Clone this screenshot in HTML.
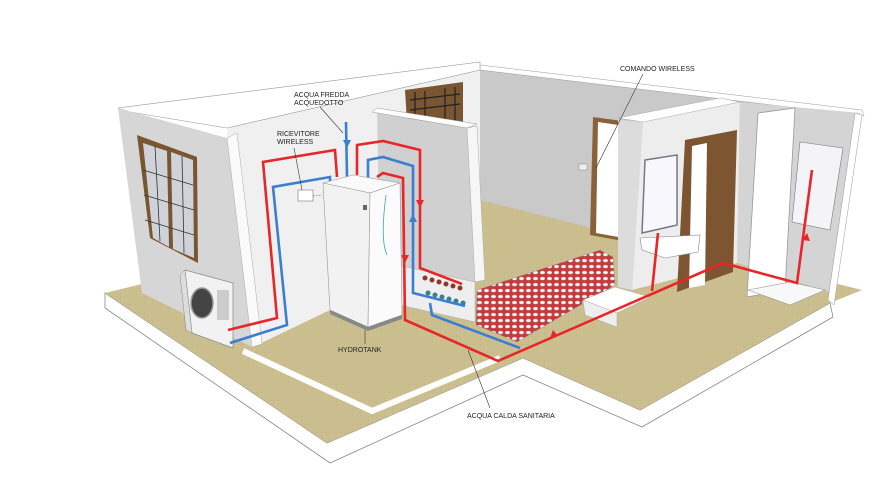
<!DOCTYPE html>
<html><head><meta charset="utf-8"><style>
html,body{margin:0;padding:0;background:#fff;}
svg{display:block}
text{font-family:"Liberation Sans",sans-serif;font-size:7px;fill:#222}
</style></head><body>
<svg width="895" height="484" viewBox="0 0 895 484" xmlns="http://www.w3.org/2000/svg">
<defs>
<pattern id="tile" width="8" height="8" patternUnits="userSpaceOnUse">
<rect width="8" height="8" fill="#cbbf8f"/><path d="M0 0H8M0 0V8" stroke="#c2b585" stroke-width="0.6"/>
</pattern>
<pattern id="heat" width="7" height="6" patternUnits="userSpaceOnUse">
<rect width="7" height="6" fill="#c83a3a"/><ellipse cx="3.5" cy="2.6" rx="2.5" ry="1.7" fill="#f4f4f4" stroke="#888" stroke-width="0.3"/>
</pattern>
</defs>
<polygon points="105,293 327,443 523,358 640,410 830,303 833,317 642,427 523,375 330,463 105,308" fill="#fff" stroke="#888" stroke-width="0.8"/>
<polygon points="105,293 190,272 480,195 862,290 830,303 640,410 523,358 327,443" fill="url(#tile)"/>
<polyline points="243,351 372,411 500,358" fill="none" stroke="#fff" stroke-width="6" stroke-linejoin="miter"/>
<polygon points="480,65 862,113 832,293 740,262 600,230 480,200" fill="#c9c9c9"/>
<polygon points="480,65 862,110 864,116 480,70" fill="#fff" stroke="#999" stroke-width="0.5"/>
<polygon points="227,128 480,70 480,200 330,310 253,347 227,140" fill="#f0f0f0"/>
<polygon points="118,108 480,62 480,70 227,128 130,112" fill="#fff" stroke="#999" stroke-width="0.6"/>
<polygon points="405,90 463,82 463,128 407,122" fill="#7a5531"/>
<g stroke="#222" stroke-width="1.2"><line x1="415" y1="92" x2="415" y2="122"/><line x1="425" y1="91" x2="425" y2="123"/><line x1="445" y1="88" x2="445" y2="125"/><line x1="455" y1="87" x2="455" y2="126"/><line x1="410" y1="100" x2="460" y2="94"/><line x1="410" y1="110" x2="460" y2="104"/></g>
<polygon points="118,108 227,138 252,347 142,293" fill="#d6d6d6"/>
<polygon points="227,138 237,133 262,344 252,347" fill="#fafafa" stroke="#aaa" stroke-width="0.5"/>
<polygon points="137,135 197,157 198,263 150,238" fill="#7a5531"/>
<polygon points="143,143 167,151 169,247 153,238" fill="#cfd3d8"/>
<polygon points="171,152 193,160 194,258 173,249" fill="#cfd3d8"/>
<g stroke="#333" stroke-width="0.8"><line x1="155" y1="146" x2="160" y2="241"/><line x1="182" y1="156" x2="184" y2="253"/><line x1="143" y1="170" x2="193" y2="185"/><line x1="144" y1="195" x2="194" y2="210"/><line x1="145" y1="220" x2="194" y2="235"/></g>
<polygon points="377,113 467,128 475,282 380,265" fill="#d0d0d0"/>
<polygon points="467,128 477,126 485,280 475,282" fill="#f6f6f6" stroke="#aaa" stroke-width="0.5"/>
<polygon points="372,112 377,108 477,124 467,128" fill="#fff" stroke="#999" stroke-width="0.5"/>
<polygon points="397,265 475,282 475,322 400,305" fill="#eee" stroke="#aaa" stroke-width="0.5"/>
<g fill="#8b3a2a"><circle cx="425" cy="278" r="2.5"/><circle cx="432" cy="280" r="2.5"/><circle cx="439" cy="282" r="2.5"/><circle cx="446" cy="284" r="2.5"/><circle cx="453" cy="286" r="2.5"/><circle cx="460" cy="288" r="2.5"/></g>
<g fill="#3d7f8f"><circle cx="428" cy="293" r="2.5"/><circle cx="435" cy="295" r="2.5"/><circle cx="442" cy="297" r="2.5"/><circle cx="449" cy="299" r="2.5"/><circle cx="456" cy="301" r="2.5"/><circle cx="463" cy="303" r="2.5"/></g>
<polygon points="477,290 600,250 613,257 615,285 517,342 476,325" fill="url(#heat)" stroke="#999" stroke-width="0.5"/>
<polygon points="593,117 630,122 628,242 590,235" fill="#8a6238"/>
<polygon points="598,122 625,126 624,238 596,233" fill="#fff"/>
<rect x="579" y="164" width="8" height="6" fill="#eee" stroke="#888" stroke-width="0.5"/>
<polygon points="618,120 643,122 632,290 618,287" fill="#dcdcdc"/>
<polygon points="643,122 740,102 737,263 632,290" fill="#ededed"/>
<polygon points="618,118 720,98 740,102 643,122" fill="#fff" stroke="#aaa" stroke-width="0.5"/>
<polygon points="685,140 737,130 733,272 677,292" fill="#7d5530"/>
<polygon points="692,146 707,143 705,285 689,288" fill="#fff"/>
<polygon points="645,160 677,155 677,225 642,233" fill="#f8f8fc" stroke="#778" stroke-width="1.5"/>
<polygon points="640,238 700,235 698,252 665,258 642,250" fill="#fff" stroke="#888" stroke-width="0.6"/>
<polygon points="583,300 615,287 650,297 617,313" fill="#fff" stroke="#aaa" stroke-width="0.5"/>
<polygon points="583,300 617,313 617,327 585,315" fill="#eee" stroke="#aaa" stroke-width="0.5"/>
<polygon points="740,102 860,113 832,293 737,263" fill="#d4d4d4"/>
<polygon points="758,113 795,108 785,290 747,297" fill="#fff" stroke="#999" stroke-width="0.8"/>
<polygon points="800,142 843,148 830,230 792,222" fill="#f3f3f8" stroke="#777" stroke-width="0.6"/>
<polygon points="748,290 790,282 825,290 790,305" fill="#f8f8f8" stroke="#999" stroke-width="0.6"/>
<polygon points="855,113 862,115 834,305 828,300" fill="#fff" stroke="#999" stroke-width="0.5"/>
<polygon points="185,270 233,283 233,348 192,333" fill="#f2f2f2" stroke="#888" stroke-width="0.7"/>
<polygon points="180,275 185,270 192,333 186,330" fill="#ddd" stroke="#888" stroke-width="0.5"/>
<ellipse cx="202" cy="303" rx="11" ry="15" fill="#444" stroke="#999" stroke-width="1.5"/>
<rect x="217" y="290" width="12" height="30" fill="#ccc"/>
<rect x="298" y="190" width="15" height="11" fill="#fff" stroke="#777" stroke-width="0.6"/>
<line x1="313" y1="196" x2="322" y2="195" stroke="#555" stroke-width="0.6" stroke-dasharray="1.5 1.5"/>
<g fill="none" stroke-width="2.6" stroke-linejoin="miter">
<polyline points="228,330 277,318 263,162 335,150 337,177" stroke="#e8262a"/>
<polyline points="230,343 287,325 273,187 330,177 330,183" stroke="#3a7fd0"/>
<polyline points="346,122 347,177" stroke="#3a7fd0"/>
<polyline points="357,175 357,145 383,141 420,150 420,268 462,284" stroke="#e8262a"/>
<polyline points="368,178 368,160 383,157 413,166 413,293 465,306" stroke="#3a7fd0"/>
<polyline points="430,303 432,315 520,348" stroke="#3a7fd0"/>
<polyline points="377,177 383,173 403,178 405,320 498,361 723,263 797,283 812,170" stroke="#e8262a"/>
<polyline points="652,291 658,233" stroke="#e8262a"/>
</g>
<g>
<polygon points="343,140 351,140 347,148" fill="#3a7fd0"/>
<polygon points="416,200 424,200 420,208" fill="#e8262a"/>
<polygon points="409,222 417,222 413,214" fill="#3a7fd0"/>
<polygon points="401,255 409,255 405,263" fill="#e8262a"/>
<polygon points="558,336 553,330 550,338" fill="#e8262a"/>
<polygon points="802,240 810,241 807,233" fill="#e8262a"/>
</g>
<polygon points="323,183 353,175 400,183 370,193" fill="#fafafa" stroke="#999" stroke-width="0.6"/>
<polygon points="323,183 370,193 368,327 330,310" fill="#f2f2f2" stroke="#999" stroke-width="0.6"/>
<polygon points="370,193 400,183 402,315 368,327" fill="#fbfbfb" stroke="#999" stroke-width="0.6"/>
<polygon points="330,310 368,327 402,315 402,319 368,331 330,314" fill="#888"/>
<rect x="363" y="205" width="4" height="5" fill="#666"/>
<path d="M386 195 Q380 240 387 255" stroke="#3aa" stroke-width="0.8" fill="none"/>
<g stroke="#333" stroke-width="0.6" fill="none">
<line x1="320" y1="107" x2="343" y2="133"/>
<line x1="294" y1="148" x2="302" y2="190"/>
<line x1="365" y1="330" x2="365" y2="344"/>
<line x1="468" y1="350" x2="490" y2="408"/>
<line x1="643" y1="74" x2="596" y2="168"/>
</g>
<text x="294" y="97">ACQUA FREDDA</text>
<text x="294" y="105">ACQUEDOTTO</text>
<text x="277" y="136">RICEVITORE</text>
<text x="277" y="144">WIRELESS</text>
<text x="338" y="352">HYDROTANK</text>
<text x="467" y="418">ACQUA CALDA SANITARIA</text>
<text x="620" y="71">COMANDO WIRELESS</text>
</svg>
</body></html>
